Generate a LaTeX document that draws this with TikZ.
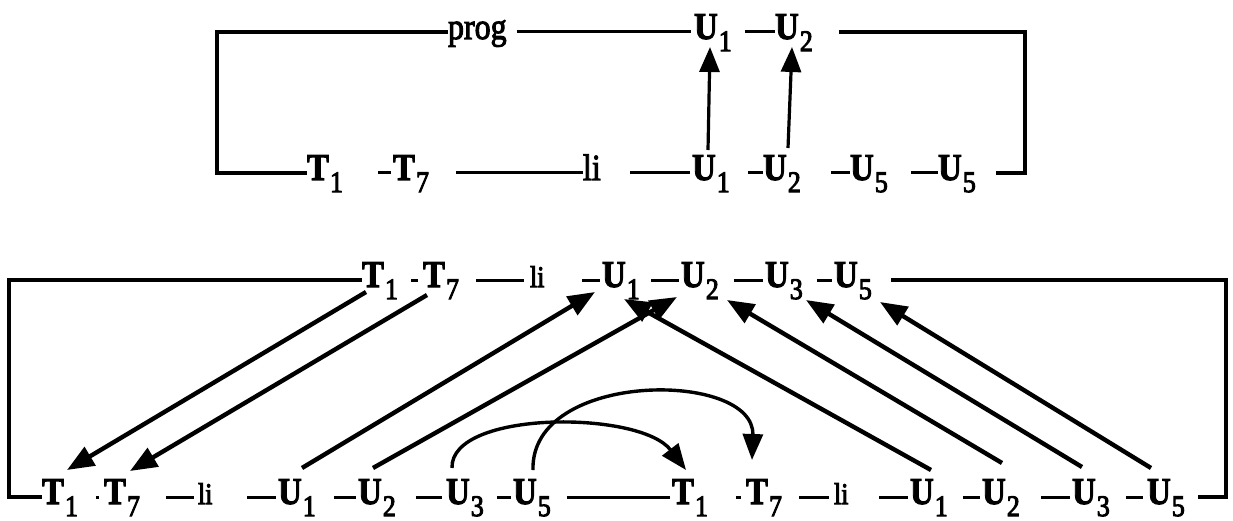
\documentclass[tikz,border=0pt]{standalone}
\usepackage{fontspec}
\setmainfont{Liberation Serif}
\usepackage{graphicx}
\usetikzlibrary{arrows.meta,calc}
\newcommand\hvon{\special{pdf:literal direct 2 Tr 0.9 w}}
\newcommand\hvoff{\special{pdf:literal direct 0 Tr 1 w}}
\newcommand\bl[2]{\hvon\scalebox{1}[1.15]{\fontsize{33}{33}\selectfont\bfseries #1\hspace{1pt}\raisebox{-10.5pt}{\fontsize{26}{26}\selectfont\mdseries #2}}\hvoff}
\newcommand\rg[2]{\hvon\scalebox{1}[1.15]{\fontsize{#1}{#1}\selectfont #2}\hvoff}
\newcommand\dsh[4]{\draw[dl] ($(#1.base east)+(#2,-7)$) -- ($(#3.base west)+(-#4,-7)$);}
\begin{document}
\begin{tikzpicture}[x=1pt,y=-1pt,
  lab/.style={inner sep=0pt,outer sep=0pt,anchor=base west},
  dl/.style={line width=3pt},
  fr/.style={line width=3.2pt,line join=miter},
  ar/.style={line width=4.4pt,-{Triangle[length=27pt,width=21pt]}},
  art/.style={line width=3.2pt,-{Triangle[length=25pt,width=20pt]}},
  arc/.style={line width=3.4pt,-{Triangle[length=26pt,width=20pt]}}]
\useasboundingbox (0,0) rectangle (1233,521);
% ---------------- top diagram
\node[lab] (prog) at (448,39) {\rg{32}{prog}};
\node[lab] (aU1) at (694,39) {\bl{U}{1}};
\node[lab] (aU2) at (775,39) {\bl{U}{2}};
\node[lab] (aT1) at (307,180) {\bl{T}{1}};
\node[lab] (aT7) at (393,180) {\bl{T}{7}};
\node[lab] (ali) at (583,180) {\rg{32}{li}};
\node[lab] (bU1) at (692,180) {\bl{U}{1}};
\node[lab] (bU2) at (763,180) {\bl{U}{2}};
\node[lab] (bU5) at (850,180) {\bl{U}{5}};
\node[lab] (bU5x) at (938,180) {\bl{U}{5}};
\coordinate (a1) at (217,173);
\coordinate (a2) at (217,32);
\coordinate (a3) at (1025,32);
\coordinate (a4) at (1025,173);
\draw[fr] ($(prog.base west)+(0,-7)$) -- (a2) -- (a1) -- ($(aT1.base west)+(0,-7)$);
\draw[fr] ($(aU2.base east)+(26,-7)$) -- (a3) -- (a4) -- ($(bU5x.base east)+(20,-7)$);
\dsh{prog}{10}{aU1}{3}
\dsh{aU1}{13}{aU2}{0}
\dsh{aT1}{35}{aT7}{2}
\dsh{aT7}{27}{ali}{0}
\dsh{ali}{29}{bU1}{2}
\dsh{bU1}{18}{bU2}{0}
\dsh{bU2}{30}{bU5}{0}
\dsh{bU5}{23}{bU5x}{0}
\draw[art] ($(bU1.base west)+(16,-30)$) -- ($(aU1.base west)+(16,8)$);
\draw[art] ($(bU2.base west)+(25,-32)$) -- ($(aU2.base west)+(17,8)$);
% ---------------- bottom diagram
\node[lab] (cT1) at (362,287) {\bl{T}{1}};
\node[lab] (cT7) at (423,287) {\bl{T}{7}};
\node[lab] (cli) at (530,287) {\rg{26}{li}};
\node[lab] (cU1) at (602,287) {\bl{U}{1}};
\node[lab] (cU2) at (681,287) {\bl{U}{2}};
\node[lab] (cU3) at (765,287) {\bl{U}{3}};
\node[lab] (cU5) at (834,287) {\bl{U}{5}};
\node[lab] (dT1) at (42,504) {\bl{T}{1}};
\node[lab] (dT7) at (104,504) {\bl{T}{7}};
\node[lab] (dli) at (198,504) {\rg{26}{li}};
\node[lab] (dU1) at (278,504) {\bl{U}{1}};
\node[lab] (dU2) at (358,504) {\bl{U}{2}};
\node[lab] (dU3) at (446,504) {\bl{U}{3}};
\node[lab] (dU5) at (513,504) {\bl{U}{5}};
\node[lab] (eT1) at (672,504) {\bl{T}{1}};
\node[lab] (eT7) at (746,504) {\bl{T}{7}};
\node[lab] (eli) at (834,504) {\rg{26}{li}};
\node[lab] (eU1) at (910,504) {\bl{U}{1}};
\node[lab] (eU2) at (982,504) {\bl{U}{2}};
\node[lab] (eU3) at (1072,504) {\bl{U}{3}};
\node[lab] (eU5) at (1147,504) {\bl{U}{5}};
\coordinate (b1) at (9,280);
\coordinate (b2) at (9,497);
\coordinate (b3) at (1226,280);
\coordinate (b4) at (1226,497);
\draw[fr] ($(cT1.base west)+(0,-7)$) -- (b1) -- (b2) -- ($(dT1.base west)+(0,-7)$);
\draw[fr] ($(cU5.base east)+(19,-7)$) -- (b3) -- (b4) -- ($(eU5.base east)+(13,-7)$);
\dsh{cT1}{13}{cT7}{5}
\dsh{cT7}{17}{cli}{6}
\dsh{cli}{38}{cU1}{2}
\dsh{cU1}{11}{cU2}{2}
\dsh{cU2}{15}{cU3}{2}
\dsh{cU3}{14}{cU5}{2}
\dsh{dT1}{18}{dT7}{5}
\dsh{dT7}{26}{dli}{4}
\dsh{dli}{35}{dU1}{2}
\dsh{dU1}{18}{dU2}{2}
\dsh{dU2}{20}{dU3}{4}
\dsh{dU3}{13}{dU5}{2}
\dsh{dU5}{16}{eT1}{2}
\dsh{eT1}{28}{eT7}{5}
\dsh{eT7}{17}{eli}{5}
\dsh{eli}{31}{eU1}{2}
\dsh{eU1}{15}{eU2}{2}
\dsh{eU2}{21}{eU3}{2}
\dsh{eU3}{16}{eU5}{4}
% straight arrows
\draw[ar] ($(cT1.base west)+(4,5)$) -- ($(dT1.base west)+(25,-34)$);
\draw[ar] ($(cT7.base west)+(4,8)$) -- ($(dT7.base west)+(26,-33)$);
\draw[ar] ($(dU1.base west)+(24,-36)$) -- ($(cU1.base west)+(-7,5)$);
\draw[ar] ($(dU2.base west)+(15,-36)$) -- ($(cU2.base west)+(-4,10)$);
\draw[ar] ($(eU1.base west)+(21,-34)$) -- ($(cU1.base west)+(22,12)$);
\draw[ar] ($(eU2.base west)+(20,-41)$) -- ($(cU2.base west)+(46,13)$);
\draw[ar] ($(eU3.base west)+(10,-37)$) -- ($(cU3.base west)+(41,13)$);
\draw[ar] ($(eU5.base west)+(4,-36)$) -- ($(cU5.base west)+(46,15)$);
% curved arrows
\draw[arc] ($(dU3.base west)+(6,-36)$) .. controls (450,410) and (640,410) .. ($(eT1.base west)+(14,-34)$);
\draw[arc] ($(dU5.base west)+(20,-34)$) .. controls (530,370) and (755,370) .. ($(eT7.base west)+(6,-44)$);
\end{tikzpicture}
\end{document}
